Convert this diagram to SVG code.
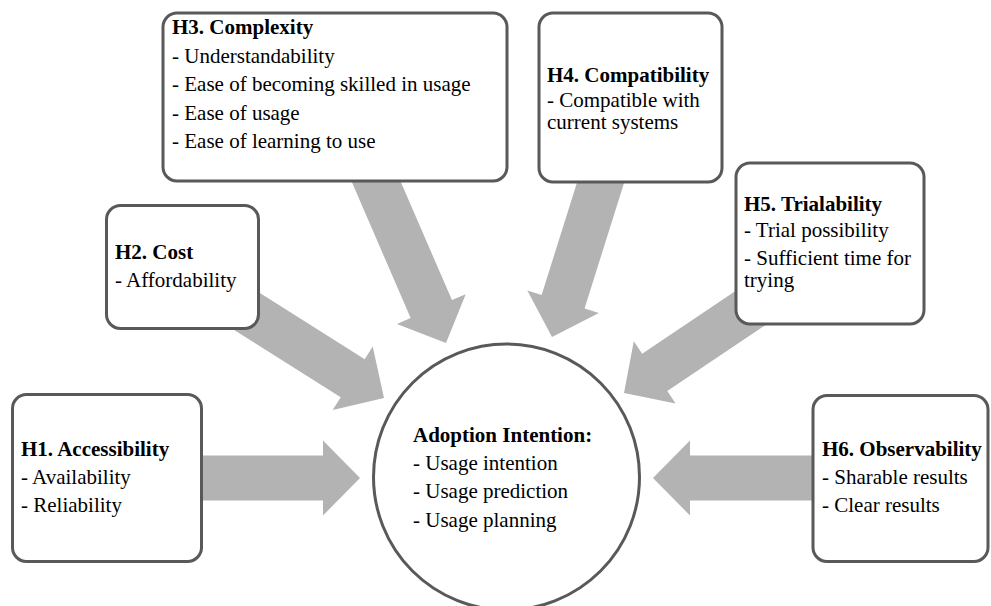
<svg xmlns="http://www.w3.org/2000/svg" width="991" height="606" viewBox="0 0 991 606">
  <style>
    .box { fill: #ffffff; stroke: #595959; stroke-width: 3; }
    .arrow { fill: #b3b3b3; }
    text { font-family: "Liberation Serif", "Times New Roman", serif; font-size: 21px; fill: #000000; }
    .title { font-weight: bold; }
  </style>
  <rect width="991" height="606" fill="#ffffff"/>

  <!-- block arrows: local shape points right with its tip at the origin -->
  <g id="connectors">
    <polygon class="arrow" points="-165,-22.5 -37,-22.5 -37,-37.5 0,0 -37,37.5 -37,22.5 -165,22.5" transform="translate(360,478)"/>
    <polygon class="arrow" points="-170,-22.5 -37,-22.5 -37,-37.5 0,0 -37,37.5 -37,22.5 -170,22.5" transform="translate(384,398) rotate(32.26)"/>
    <polygon class="arrow" points="-190,-22.5 -37,-22.5 -37,-37.5 0,0 -37,37.5 -37,22.5 -190,22.5" transform="translate(446,343) rotate(66.6)"/>
    <polygon class="arrow" points="-190,-22.5 -37,-22.5 -37,-37.5 0,0 -37,37.5 -37,22.5 -190,22.5" transform="translate(552,337) rotate(107.46)"/>
    <polygon class="arrow" points="-170,-22.5 -37,-22.5 -37,-37.5 0,0 -37,37.5 -37,22.5 -170,22.5" transform="translate(624,393) rotate(146.1)"/>
    <polygon class="arrow" points="-165,-22.5 -37,-22.5 -37,-37.5 0,0 -37,37.5 -37,22.5 -165,22.5" transform="translate(653,478) rotate(180)"/>
  </g>

  <g id="h1">
    <rect class="box" x="12.5" y="394.5" width="189" height="167" rx="14"/>
    <text x="21" y="456" class="title">H1. Accessibility</text>
    <text x="21" y="484">- Availability</text>
    <text x="21" y="512">- Reliability</text>
  </g>

  <g id="h2">
    <rect class="box" x="106.5" y="205.5" width="152" height="123" rx="14"/>
    <text x="115" y="259" class="title">H2. Cost</text>
    <text x="115" y="287">- Affordability</text>
  </g>

  <g id="h3">
    <rect class="box" x="163" y="13" width="344" height="168" rx="14"/>
    <text x="172" y="34" class="title">H3. Complexity</text>
    <text x="172" y="63">- Understandability</text>
    <text x="172" y="91">- Ease of becoming skilled in usage</text>
    <text x="172" y="120">- Ease of usage</text>
    <text x="172" y="148">- Ease of learning to use</text>
  </g>

  <g id="h4">
    <rect class="box" x="539" y="13" width="183" height="169" rx="14"/>
    <text x="547" y="82" class="title">H4. Compatibility</text>
    <text x="547" y="107">- Compatible with</text>
    <text x="547" y="129">current systems</text>
  </g>

  <g id="h5">
    <rect class="box" x="736" y="163" width="188" height="161" rx="14"/>
    <text x="744" y="211" class="title">H5. Trialability</text>
    <text x="744" y="237">- Trial possibility</text>
    <text x="744" y="265">- Sufficient time for</text>
    <text x="744" y="287">trying</text>
  </g>

  <g id="h6">
    <rect class="box" x="813" y="395.5" width="175" height="166" rx="14"/>
    <text x="822" y="456" class="title">H6. Observability</text>
    <text x="822" y="484">- Sharable results</text>
    <text x="822" y="512">- Clear results</text>
  </g>

  <g id="adoption">
    <circle class="box" cx="506.5" cy="477" r="133"/>
    <text x="413" y="442" class="title">Adoption Intention:</text>
    <text x="413" y="470">- Usage intention</text>
    <text x="413" y="498">- Usage prediction</text>
    <text x="413" y="527">- Usage planning</text>
  </g>
</svg>
